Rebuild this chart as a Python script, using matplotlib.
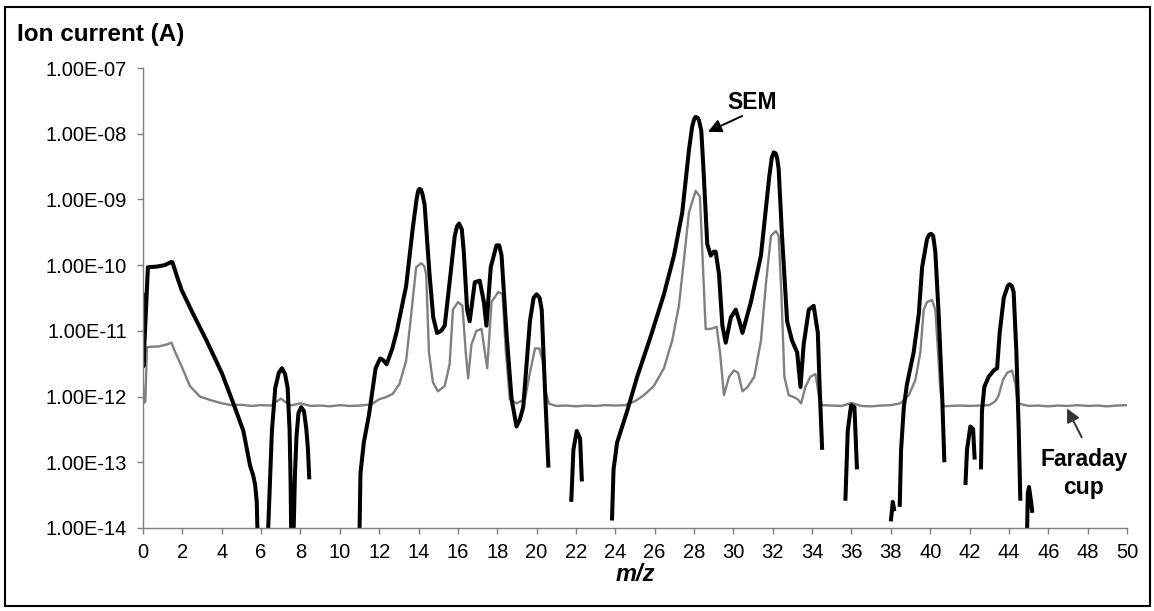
import matplotlib
matplotlib.use('Agg')
import matplotlib.pyplot as plt
import numpy as np
from matplotlib.patches import Rectangle
from matplotlib.ticker import FuncFormatter, NullLocator, MultipleLocator

plt.rcParams['font.family'] = ['Liberation Sans', 'DejaVu Sans']

nan = np.nan

# ---- SEM detector (black); nan breaks the trace where the signal drops out ----
sem_mz = [
    0.0, 0.02, 0.25, 0.7, 1.1, 1.45, 1.5, 1.7, 1.96, 2.55, 3.23, 4.0, 4.59, 5.1, 5.44, 5.6, 5.7, 5.78, 5.82, nan,
    6.35, 6.45, 6.55, 6.72, 6.9, 7.06, 7.22, 7.35, 7.45, 7.5, 7.53, nan,
    7.65, 7.72, 7.8, 7.9, 8.04, 8.18, 8.3, 8.38, 8.45, nan,
    11.0, 11.05, 11.22, 11.48, 11.65, 11.82, 12.05, 12.2, 12.38, 12.67, 12.9, 13.37, 13.71, 13.9, 13.98, 14.05,
    14.13, 14.2, 14.31, 14.56, 14.75, 14.94, 15.15, 15.33, 15.58, 15.84, 15.96, 16.06, 16.2, 16.3, 16.47, 16.6,
    16.86, 17.11, 17.32, 17.45, 17.67, 17.96, 18.1, 18.22, 18.47, 18.73, 18.98, 19.15, 19.32, 19.66, 19.85, 20.0,
    20.15, 20.26, 20.43, 20.6, nan,
    21.76, 21.87, 22.04, 22.21, 22.3, nan,
    23.83, 23.91, 24.09, 24.6, 25.11, 25.79, 26.47, 26.98, 27.4, 27.74, 27.9, 28.0, 28.08, 28.18, 28.25, 28.37,
    28.5, 28.67, 28.85, 29.0, 29.1, 29.27, 29.44, 29.61, 29.87, 30.12, 30.3, 30.46, 30.89, 31.4, 31.82, 31.95,
    32.05, 32.15, 32.22, 32.3, 32.47, 32.73, 32.98, 33.24, 33.41, 33.57, 33.83, 34.08, 34.29, 34.39, 34.51, nan,
    35.69, 35.81, 35.98, 36.15, 36.28, nan,
    38.0, 38.1, 38.18, nan,
    38.45, 38.52, 38.66, 38.82, 39.16, 39.42, 39.59, 39.84, 39.95, 40.04, 40.15, 40.26, 40.43, 40.6, 40.72, nan,
    41.79, 41.87, 42.04, 42.18, 42.26, nan,
    42.58, 42.63, 42.75, 42.97, 43.23, 43.4, 43.53, 43.74, 43.95, 44.04, 44.15, 44.24, 44.38, 44.5, 44.58, nan,
    44.92, 44.96, 45.02, 45.12, 45.19,
]
sem_current = [
    3.8e-11, 2.9e-12, 9.3e-11, 9.5e-11, 1.0e-10, 1.12e-10, 1.1e-10, 7.1e-11, 4.2e-11, 1.8e-11, 7.1e-12, 2.3e-12,
    7.9e-13, 3.0e-13, 8.9e-14, 6.3e-14, 4.5e-14, 2.5e-14, 8e-15, nan,
    8e-15, 5e-14, 3.0e-13, 1.35e-12, 2.3e-12, 2.7e-12, 2.2e-12, 1.35e-12, 3.0e-13, 5e-14, 8e-15, nan,
    8e-15, 6.3e-14, 2.5e-13, 5.6e-13, 6.9e-13, 6.0e-13, 3.2e-13, 1.6e-13, 5.5e-14, nan,
    8e-15, 6.8e-14, 2.0e-13, 5.2e-13, 1.2e-12, 2.7e-12, 3.8e-12, 3.6e-12, 3.1e-12, 5.4e-12, 1.0e-11, 4.8e-11,
    3.7e-10, 1.0e-9, 1.35e-9, 1.45e-9, 1.4e-9, 1.2e-9, 8.3e-10, 7.2e-11, 1.6e-11, 9.3e-12, 1.0e-11, 1.2e-11,
    5.5e-11, 2.8e-10, 3.9e-10, 4.3e-10, 3.5e-10, 1.6e-10, 2.1e-11, 1.4e-11, 5.5e-11, 5.8e-11, 2.75e-11, 1.2e-11,
    9.3e-11, 2.0e-10, 2.0e-10, 1.4e-10, 9.3e-12, 9.1e-13, 3.5e-13, 4.5e-13, 6.9e-13, 1.4e-11, 3.2e-11, 3.6e-11,
    3.2e-11, 2.1e-11, 1.2e-12, 8.3e-14, nan,
    2.5e-14, 1.55e-13, 3.0e-13, 2.3e-13, 5.1e-14, nan,
    1.3e-14, 7.8e-14, 2.0e-13, 6.0e-13, 2.0e-12, 8.1e-12, 3.6e-11, 1.4e-10, 6.3e-10, 5.6e-9, 1.26e-8, 1.65e-8,
    1.8e-8, 1.75e-8, 1.6e-8, 1.1e-8, 2.2e-9, 2.1e-10, 1.4e-10, 1.6e-10, 1.6e-10, 7.2e-11, 1.2e-11, 6.6e-12,
    1.6e-11, 2.1e-11, 1.4e-11, 9.3e-12, 2.75e-11, 1.4e-10, 2.2e-9, 4.3e-9, 5.2e-9, 5.0e-9, 4.3e-9, 2.9e-9,
    2.8e-10, 1.4e-11, 7.1e-12, 4.7e-12, 1.4e-12, 6.2e-12, 2.1e-11, 2.4e-11, 9.3e-12, 1.2e-12, 1.55e-13, nan,
    2.6e-14, 3.0e-13, 7.4e-13, 6.9e-13, 7.8e-14, nan,
    1.26e-14, 2.5e-14, 1.8e-14, nan,
    2.1e-14, 1.55e-13, 6.9e-13, 1.55e-12, 4.7e-12, 1.8e-11, 9.3e-11, 2.5e-10, 2.9e-10, 3.0e-10, 2.8e-10, 1.6e-10,
    1.8e-11, 1.2e-12, 1.0e-13, nan,
    4.5e-14, 1.55e-13, 3.5e-13, 3.2e-13, 1.1e-13, nan,
    7.8e-14, 6.0e-13, 1.4e-12, 2.0e-12, 2.5e-12, 2.7e-12, 9.3e-12, 3.2e-11, 4.9e-11, 5.1e-11, 4.8e-11, 3.9e-11,
    4.7e-12, 3.0e-13, 2.6e-14, nan,
    8e-15, 3.4e-14, 4.2e-14, 2.6e-14, 1.7e-14,
]

# ---- Faraday cup (grey) ----
fc_mz = [
    0.0, 0.05, 0.12, 0.2, 0.3, 0.8, 1.2, 1.45, 1.6, 1.96, 2.38, 2.89, 3.4, 4.0, 4.5, 5.0, 5.5, 6.0, 6.5, 7.0,
    7.5, 8.0, 8.5, 9.0, 9.5, 10.0, 10.5, 11.0, 11.6, 12.0, 12.35, 12.69, 13.03, 13.37, 13.63, 13.88, 14.14, 14.3,
    14.39, 14.53, 14.73, 14.99, 15.33, 15.58, 15.75, 16.01, 16.23, 16.4, 16.52, 16.69, 16.94, 17.2, 17.37, 17.49,
    17.71, 18.05, 18.27, 18.44, 18.64, 18.98, 19.41, 19.66, 19.92, 20.14, 20.31, 20.46, 20.63, 21.0, 21.5, 22.0,
    22.5, 23.0, 23.5, 24.0, 24.5, 25.0, 25.45, 25.96, 26.47, 26.89, 27.23, 27.49, 27.74, 28.08, 28.3, 28.47,
    28.59, 28.85, 29.15, 29.32, 29.52, 29.78, 30.03, 30.24, 30.46, 30.72, 31.06, 31.4, 31.66, 31.91, 32.16, 32.3,
    32.44, 32.59, 32.81, 33.07, 33.27, 33.44, 33.66, 33.91, 34.17, 34.34, 34.51, 35.0, 35.5, 36.0, 36.5, 37.0,
    37.5, 38.0, 38.49, 38.91, 39.25, 39.5, 39.67, 39.84, 40.09, 40.26, 40.4, 40.52, 40.69, 41.0, 41.5, 42.0,
    42.5, 43.0, 43.31, 43.48, 43.7, 43.91, 44.16, 44.33, 44.45, 45.0, 45.5, 46.0, 46.5, 47.0, 47.5, 48.0, 48.5,
    49.0, 49.5, 50.0,
]
fc_current = [
    1.5e-12, 8.0e-13, 8.5e-13, 5.6e-12, 5.7e-12, 5.8e-12, 6.2e-12, 6.6e-12, 5.0e-12, 2.9e-12, 1.45e-12, 1.0e-12,
    8.9e-13, 7.9e-13, 7.4e-13, 7.5e-13, 7.2e-13, 7.4e-13, 7.3e-13, 9.3e-13, 7.3e-13, 7.9e-13, 7.2e-13, 7.3e-13,
    7.1e-13, 7.4e-13, 7.2e-13, 7.3e-13, 7.6e-13, 9.1e-13, 9.8e-13, 1.1e-12, 1.55e-12, 3.5e-12, 1.8e-11, 9.3e-11,
    1.07e-10, 9.5e-11, 7.2e-11, 4.7e-12, 1.65e-12, 1.2e-12, 1.45e-12, 3.1e-12, 2.1e-11, 2.75e-11, 2.4e-11,
    4.7e-12, 1.9e-12, 6.2e-12, 1.0e-11, 1.07e-11, 4.7e-12, 2.7e-12, 2.75e-11, 3.9e-11, 3.6e-11, 4.7e-12, 9.1e-13,
    7.9e-13, 9.1e-13, 2.3e-12, 5.4e-12, 5.4e-12, 3.5e-12, 1.2e-12, 7.8e-13, 7.2e-13, 7.3e-13, 7.1e-13, 7.3e-13,
    7.2e-13, 7.4e-13, 7.3e-13, 7.4e-13, 8.5e-13, 1.05e-12, 1.45e-12, 2.7e-12, 7.1e-12, 2.4e-11, 1.23e-10,
    6.3e-10, 1.35e-9, 1.1e-9, 7.2e-11, 1.07e-11, 1.07e-11, 1.15e-11, 4.7e-12, 1.05e-12, 2.0e-12, 2.5e-12,
    2.3e-12, 1.2e-12, 1.4e-12, 2.0e-12, 7.1e-12, 5.5e-11, 2.8e-10, 3.3e-10, 2.8e-10, 3.6e-11, 2.0e-12, 1.05e-12,
    9.8e-13, 9.1e-13, 7.9e-13, 1.4e-12, 2.0e-12, 2.2e-12, 1.05e-12, 7.4e-13, 7.3e-13, 7.2e-13, 8.0e-13, 7.2e-13,
    7.1e-13, 7.3e-13, 7.4e-13, 7.9e-13, 1.05e-12, 1.8e-12, 4.7e-12, 2.1e-11, 2.75e-11, 2.95e-11, 2.1e-11,
    4.7e-12, 1.2e-12, 7.1e-13, 7.2e-13, 7.3e-13, 7.2e-13, 7.3e-13, 7.4e-13, 8.5e-13, 1.05e-12, 1.8e-12, 2.3e-12,
    2.5e-12, 1.55e-12, 7.9e-13, 7.2e-13, 7.3e-13, 7.1e-13, 7.3e-13, 7.2e-13, 7.4e-13, 7.2e-13, 7.3e-13, 7.1e-13,
    7.3e-13, 7.4e-13,
]

ytick_values = [1e-7, 1e-8, 1e-9, 1e-10, 1e-11, 1e-12, 1e-13, 1e-14]

fig = plt.figure(figsize=(11.54, 6.11), dpi=100)
ax = fig.add_axes([143 / 1154, 1 - 528 / 611, 984 / 1154, 460 / 611])

ax.plot(fc_mz, fc_current, color='#808080', linewidth=1.7, solid_joinstyle='round')
ax.plot(sem_mz, sem_current, color='black', linewidth=2.9, solid_joinstyle='round', solid_capstyle='butt')

ax.set_yscale('log')
ax.set_ylim(1e-14, 1e-7)
ax.set_xlim(0, 50)
ax.set_yticks(ytick_values)
ax.yaxis.set_minor_locator(NullLocator())
ax.yaxis.set_major_formatter(FuncFormatter(lambda v, pos: f'{v:.2E}'))
ax.xaxis.set_major_locator(MultipleLocator(2))

for side in ['top', 'right']:
    ax.spines[side].set_visible(False)
for side in ['left', 'bottom']:
    ax.spines[side].set_color('#808080')
    ax.spines[side].set_linewidth(1.0)
ax.tick_params(axis='both', direction='out', length=4.5, width=1.0, color='#808080',
               labelsize=14.5, labelcolor='black')
ax.tick_params(axis='y', pad=7)
ax.tick_params(axis='x', pad=6)

ax.set_xlabel('m/z', fontsize=17, fontweight='bold', fontstyle='italic', labelpad=1)
fig.text(17 / 1154, 1 - 35 / 611, 'Ion current (A)', fontsize=17.5, fontweight='bold', va='center', ha='left')

# labels with arrows
ax.annotate('', xy=(28.71, 1.07e-8), xytext=(30.44, 1.86e-8),
            arrowprops=dict(arrowstyle='-|>', color='black', lw=1.4, mutation_scale=20, shrinkA=0, shrinkB=0))
ax.text(30.95, 2.95e-8, 'SEM', fontsize=16.5, fontweight='bold', ha='center', va='center')

ax.annotate('', xy=(46.95, 6.6e-13), xytext=(47.7, 2.4e-13),
            arrowprops=dict(arrowstyle='-|>', color='#333333', lw=1.4, mutation_scale=20, shrinkA=0, shrinkB=0))
ax.text(47.8, 6.8e-14, 'Faraday\ncup', fontsize=16.5, fontweight='bold', ha='center', va='center', linespacing=1.25)

# outer chart frame
fig.patches.append(Rectangle((5 / 1154, 5 / 611), 1145 / 1154, 599 / 611, transform=fig.transFigure,
                             fill=False, edgecolor='black', linewidth=1.5))

plt.savefig('out.png', dpi=100)
